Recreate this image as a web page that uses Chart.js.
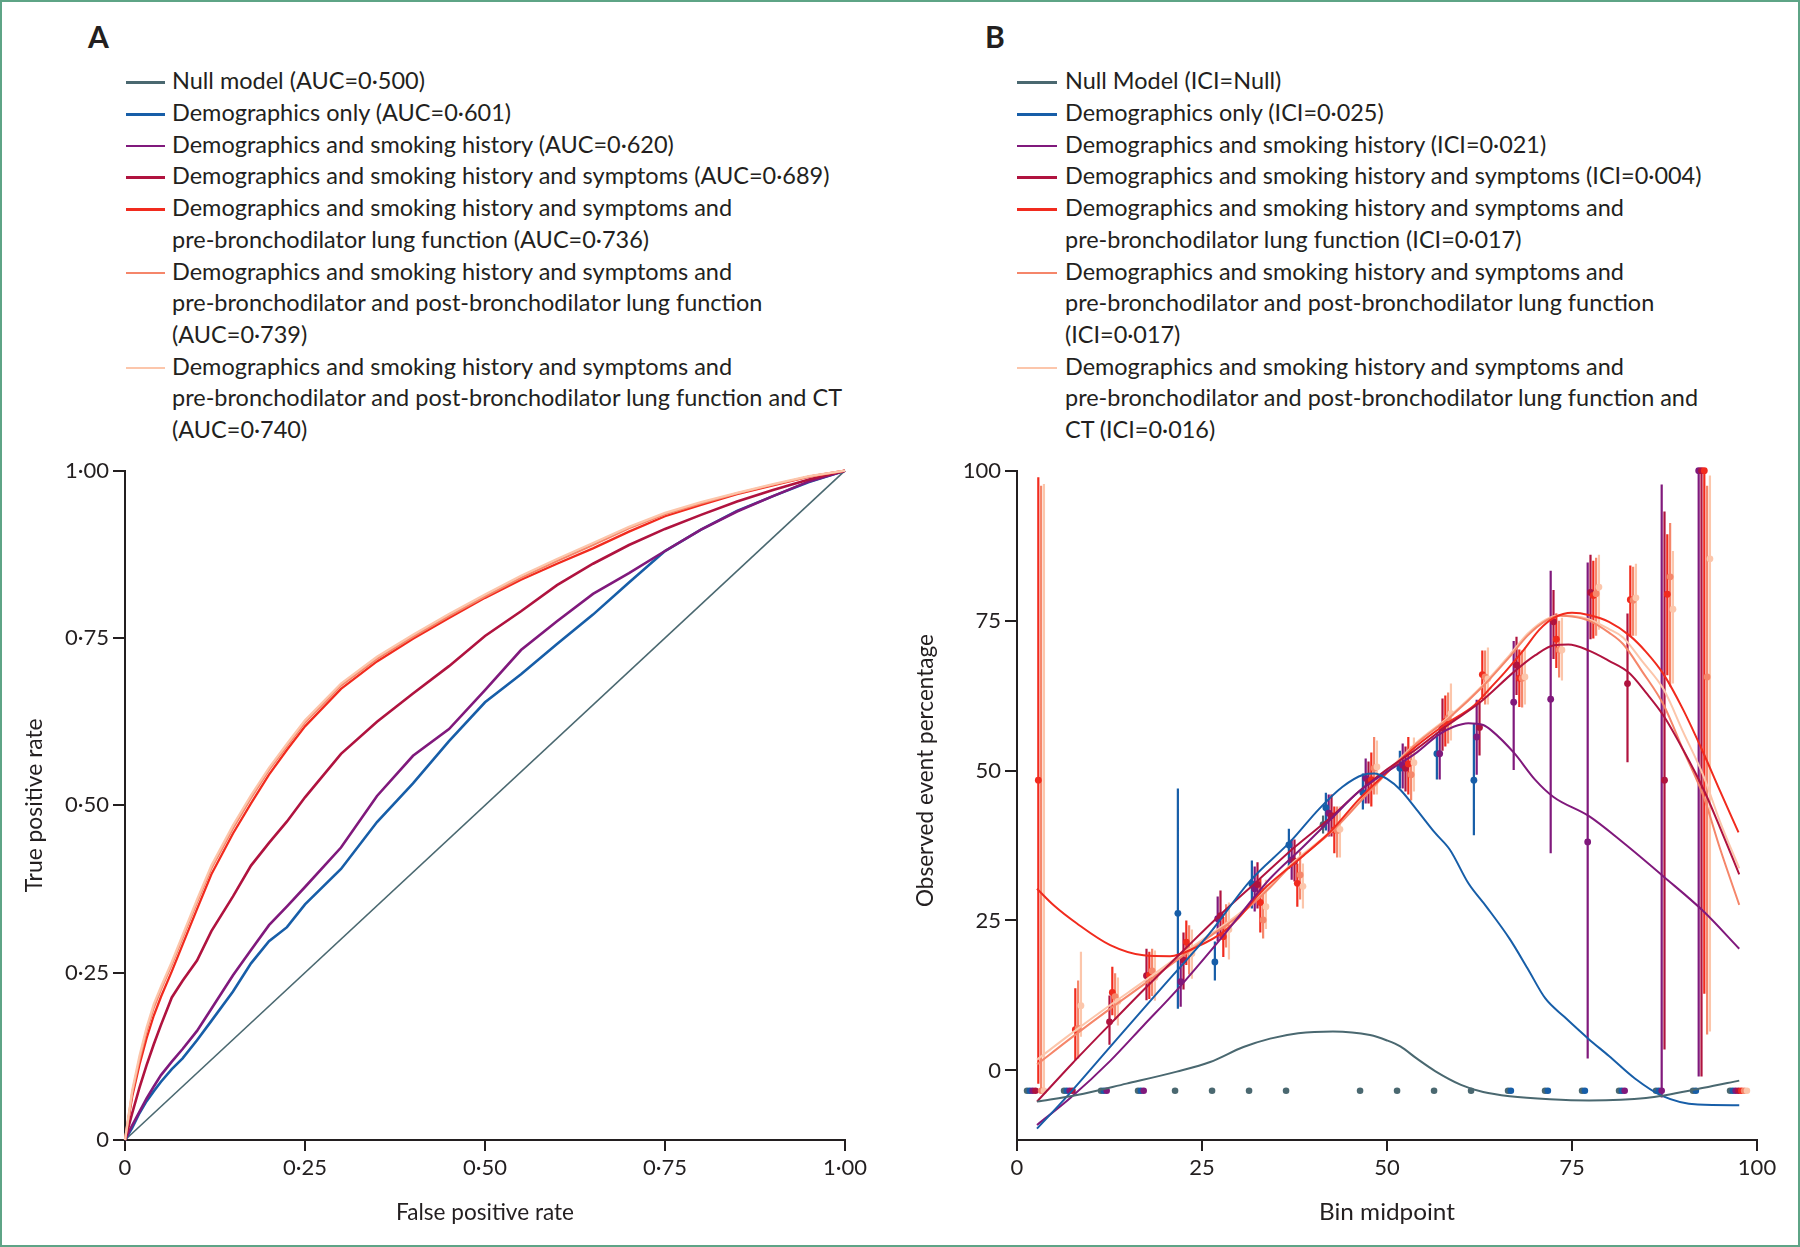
<!DOCTYPE html>
<html>
<head>
<meta charset="utf-8">
<title>ROC curves and calibration</title>
<script src="https://cdn.jsdelivr.net/npm/chart.js@4.4.1/dist/chart.umd.min.js"></script>
<style>
  html, body { margin:0; padding:0; background:#ffffff; }
  body { position:relative; width:1800px; height:1247px; overflow:hidden; font-family: Lato, 'Open Sans', 'DejaVu Sans', sans-serif; color:#231f20; }
  #frame { position:absolute; left:0; top:0; width:1800px; height:1247px; box-sizing:border-box; border:2px solid #5ea486; pointer-events:none; }
  .panel { position:absolute; font-size:30px; line-height:30px; font-weight:700; }
  .legend { position:absolute; }
  .row { position:absolute; height:31.7px; font-size:24px; line-height:31.7px; white-space:nowrap; }
  .txt { position:absolute; left:0; top:0; transform-origin:0 50%; }
  .sw { position:absolute; left:0; height:2.6px; }
  canvas { position:absolute; }
</style>
</head>
<body>
<div class="panel" style="left:88px;top:21px">A</div>
<div class="panel" style="left:985px;top:21px">B</div>
<div class="legend" id="legA" style="left:126px;top:64.4px"></div>
<div class="legend" id="legB" style="left:1017px;top:64.4px"></div>
<canvas id="chartA" width="880" height="807" style="left:0;top:440px;width:880px;height:807px"></canvas>
<canvas id="chartB" width="900" height="807" style="left:900px;top:440px;width:900px;height:807px"></canvas>
<div id="frame"></div>
<script>
const FONT = "Lato, 'Open Sans', 'DejaVu Sans', sans-serif";
const INK = '#231f20';

// ---------- series colours (null, demographics, smoking, symptoms, pre-BD, post-BD, CT) ----------
const seriesColors = ['#4a6870', '#175ea8', '#80197c', '#b0133f', '#f12b1e', '#f5866a', '#fcc6ab'];

// ---------- legend texts ----------
const legendA = [
  ['Null model (AUC=0·500)'],
  ['Demographics only (AUC=0·601)'],
  ['Demographics and smoking history (AUC=0·620)'],
  ['Demographics and smoking history and symptoms (AUC=0·689)'],
  ['Demographics and smoking history and symptoms and', 'pre-bronchodilator lung function (AUC=0·736)'],
  ['Demographics and smoking history and symptoms and', 'pre-bronchodilator and post-bronchodilator lung function', '(AUC=0·739)'],
  ['Demographics and smoking history and symptoms and', 'pre-bronchodilator and post-bronchodilator lung function and CT', '(AUC=0·740)']
];
const legendB = [
  ['Null Model (ICI=Null)'],
  ['Demographics only (ICI=0·025)'],
  ['Demographics and smoking history (ICI=0·021)'],
  ['Demographics and smoking history and symptoms (ICI=0·004)'],
  ['Demographics and smoking history and symptoms and', 'pre-bronchodilator lung function (ICI=0·017)'],
  ['Demographics and smoking history and symptoms and', 'pre-bronchodilator and post-bronchodilator lung function', '(ICI=0·017)'],
  ['Demographics and smoking history and symptoms and', 'pre-bronchodilator and post-bronchodilator lung function and', 'CT (ICI=0·016)']
];

// ---------- Panel A: ROC ----------
const rocTickValues = [0, 0.25, 0.5, 0.75, 1];
const rocTickLabels = ['0', '0·25', '0·50', '0·75', '1·00'];
const nullFpr = [0, 1];
const nullTpr = [0, 1];
const rocFpr = [0, 0.01, 0.02, 0.03, 0.04, 0.05, 0.065, 0.08, 0.1, 0.12, 0.15, 0.175, 0.2, 0.225, 0.25, 0.3, 0.35, 0.4, 0.45, 0.5, 0.55, 0.6, 0.65, 0.7, 0.75, 0.8, 0.85, 0.9, 0.95, 1];
const tprDemo    = [0, 0.018, 0.04, 0.058, 0.073, 0.087, 0.106, 0.122, 0.149, 0.178, 0.222, 0.264, 0.297, 0.318, 0.352, 0.405, 0.475, 0.533, 0.596, 0.654, 0.696, 0.741, 0.785, 0.833, 0.880, 0.912, 0.940, 0.962, 0.983, 1];
const tprSmoke   = [0, 0.022, 0.042, 0.062, 0.08, 0.097, 0.117, 0.136, 0.163, 0.196, 0.246, 0.284, 0.321, 0.349, 0.378, 0.437, 0.514, 0.574, 0.614, 0.672, 0.732, 0.775, 0.816, 0.847, 0.880, 0.912, 0.939, 0.962, 0.984, 1];
const tprSymptom = [0, 0.04, 0.078, 0.112, 0.143, 0.172, 0.213, 0.238, 0.268, 0.312, 0.364, 0.41, 0.444, 0.476, 0.512, 0.577, 0.625, 0.667, 0.708, 0.753, 0.790, 0.829, 0.861, 0.889, 0.913, 0.934, 0.954, 0.971, 0.987, 1];
const tprPreBD   = [0, 0.065, 0.112, 0.152, 0.186, 0.214, 0.252, 0.292, 0.345, 0.397, 0.458, 0.503, 0.546, 0.583, 0.618, 0.674, 0.715, 0.749, 0.780, 0.810, 0.837, 0.861, 0.884, 0.909, 0.932, 0.949, 0.965, 0.978, 0.991, 1];
const tprPostBD  = [0, 0.07, 0.12, 0.163, 0.198, 0.225, 0.262, 0.302, 0.355, 0.406, 0.466, 0.511, 0.553, 0.589, 0.624, 0.679, 0.719, 0.752, 0.783, 0.812, 0.840, 0.865, 0.889, 0.914, 0.935, 0.951, 0.966, 0.979, 0.991, 1];
const tprCT      = [0, 0.074, 0.125, 0.168, 0.203, 0.229, 0.266, 0.306, 0.359, 0.41, 0.47, 0.515, 0.556, 0.592, 0.627, 0.682, 0.722, 0.755, 0.786, 0.815, 0.843, 0.868, 0.892, 0.916, 0.937, 0.953, 0.967, 0.980, 0.992, 1];

// ---------- Panel B: calibration ----------
const calTickValues = [0, 25, 50, 75, 100];
const calTickLabels = ['0', '25', '50', '75', '100'];
const calYMin = -11.6;
const noDataLevel = -3.4;
const binMid = [2.5, 7.5, 12.5, 17.5, 22.5, 27.5, 32.5, 37.5, 42.5, 47.5, 52.5, 57.5, 62.5, 67.5, 72.5, 77.5, 82.5, 87.5, 92.5, 97.5];
const seriesDodge = [-1.14, -0.76, -0.38, 0, 0.38, 0.76, 1.14];

// smoothed calibration curves
const curveNullX = [2.7, 8.1, 14.8, 21.6, 26.1, 30.6, 34.2, 38, 42.7, 47.7, 50, 51.8, 54, 56.5, 60, 63, 66.6, 72, 77.3, 85, 92.8, 97.6];
const curveNullY = [-5.2, -4.1, -2.2, -0.2, 1.4, 3.9, 5.3, 6.2, 6.5, 5.9, 5.0, 4.0, 2.0, -0.1, -2.4, -3.6, -4.3, -4.8, -5.0, -4.6, -2.9, -1.7];
const curveDemoX = [2.7, 6.7, 12, 20, 26, 31.5, 36.9, 40.9, 44, 46.8, 48.3, 50, 51.8, 54, 56.5, 58.5, 61, 63.5, 66.6, 69, 71.4, 74, 77.2, 80, 83.5, 87.1, 92, 97.6];
const curveDemoY = [-9.7, -4.4, 3.1, 14.4, 22.8, 31.6, 38.1, 43.7, 47.3, 49.3, 49.5, 48.6, 46.8, 43.5, 39.6, 36.8, 31.2, 27.2, 21.9, 17, 12.0, 8.9, 5.3, 2.4, -1.35, -4.2, -5.7, -5.8];
const curveSmokeX = [2.7, 7.2, 12.6, 17.1, 21.6, 28.1, 34.2, 38.5, 42.5, 46.2, 50, 54, 57, 59, 61, 63, 64.1, 67.2, 70, 72.5, 77.3, 81.9, 87.4, 92.8, 97.6];
const curveSmokeY = [-9.1, -4.6, 1.6, 7.5, 13.4, 22.8, 32, 37.1, 42, 46.5, 49.8, 53, 56, 57.3, 57.9, 57.6, 56.7, 52.9, 48.5, 45.6, 42.4, 38, 32.3, 26.5, 20.3];
const curveSymptomX = [2.7, 7.5, 12.5, 17.5, 22.5, 27.5, 32.5, 37.5, 42.5, 46.2, 50, 54, 58, 62.5, 67.2, 70, 72.6, 74.5, 77.3, 80, 82.7, 85, 87.4, 90, 92.8, 95, 97.6];
const curveSymptomY = [-5.2, 1.2, 7.6, 13.9, 20, 26, 31.6, 37.2, 42.3, 46.5, 50.2, 53.6, 57.4, 61.3, 66.5, 69.2, 70.9, 71, 70, 68.3, 66.3, 63, 59.1, 53.5, 46.8, 40.5, 32.7];
const curvePreBDX = [2.7, 5, 8.1, 12.6, 17.1, 20.7, 24.3, 27.9, 30, 33, 38.5, 42.5, 46.2, 50, 54, 58, 61.8, 64, 66, 68.4, 70.6, 72.6, 75, 77.4, 80, 82.8, 85, 87.3, 90, 92.7, 95, 97.5];
const curvePreBDY = [30.3, 27.5, 24.5, 20.9, 19.2, 19.05, 20.6, 23.1, 25.5, 29.8, 35.6, 40, 45.2, 49.7, 54.1, 57.8, 60.9, 63.8, 66.5, 70, 73.5, 75.5, 76.3, 75.9, 74.8, 72.5, 69.8, 66.2, 60.2, 53.1, 46.6, 39.7];
const curvePostBDX = [2.7, 7.5, 12.6, 17.1, 21.6, 26, 30, 34.2, 36.9, 42.7, 48.6, 54, 58.5, 63, 66.6, 69, 71.5, 73.4, 75, 77.3, 80, 81.9, 84.5, 87.4, 90, 92.8, 95, 97.6];
const curvePostBDY = [1.0, 5.6, 10.3, 14.3, 18.4, 22.3, 25.8, 30.5, 34, 40, 47.8, 54.5, 58.9, 64.1, 69, 72.5, 75, 75.8, 75.7, 75, 73, 71.1, 66.5, 60.9, 53.5, 45.6, 37, 27.6];
const curveCTX = [2.7, 7.5, 12.6, 17.1, 21.6, 26, 30, 34.2, 36.9, 42.7, 48.6, 54, 58.5, 63, 66.6, 69, 71.5, 73.4, 75, 77.3, 80, 81.9, 84.5, 87.4, 90, 92.8, 95, 97.6];
const curveCTY = [1.8, 6.3, 10.9, 14.8, 18.8, 22.6, 26.1, 30.7, 34.2, 40.2, 48, 54.7, 59.1, 64.3, 69.3, 72.8, 75.2, 75.9, 75.8, 75.2, 73.6, 72.2, 68.2, 63.5, 56.5, 49, 41.5, 33.7];

// observed event percentage per bin (null = no observed point), with 95% CI
const n = null;
const obsNull = [n, n, n, n, n, n, n, n, 41.0, n, n, n, n, n, n, n, n, n, n, n];
const loNull  = [n, n, n, n, n, n, n, n, 39.5, n, n, n, n, n, n, n, n, n, n, n];
const hiNull  = [n, n, n, n, n, n, n, n, 42.5, n, n, n, n, n, n, n, n, n, n, n];
const obsDemo = [n, n, n, n, 26.2, 18.1, 31.1, 37.6, 43.8, 46.3, 50.4, 52.8, 48.4, n, n, n, n, n, n, n];
const loDemo  = [n, n, n, n, 10.3, 15.0, 27.0, 33.6, 40.0, 43.5, 47.0, 48.5, 39.2, n, n, n, n, n, n, n];
const hiDemo  = [n, n, n, n, 47.0, 21.5, 35.0, 40.3, 46.3, 49.5, 53.3, 56.3, 57.8, n, n, n, n, n, n, n];
const obsSmoke = [n, n, n, n, 14.8, 25.3, 30.3, 35.1, 42.9, 48.7, 50.9, 52.8, 55.6, 61.4, 61.9, 38.1, n, n, 100, n];
const loSmoke  = [n, n, n, n, 10.6, 21.5, 26.5, 31.8, 39.0, 44.5, 47.0, 48.5, 49.3, 50.1, 36.2, 2.0, n, -4.5, -1, n];
const hiSmoke  = [n, n, n, n, 18.7, 29.0, 34.0, 38.5, 46.0, 52.0, 54.5, 57.5, 61.8, 71.6, 83.3, 84.7, n, 97.7, 100, n];
const obsSymptom = [n, n, 8.1, 15.8, 18.4, 25.8, 31.0, 34.9, 42.5, 48.2, 50.4, 57.1, 57.2, 67.6, 74.8, 79.7, 64.5, 48.4, 100, n];
const loSymptom  = [n, n, 4.3, 11.7, 13.5, 22.0, 27.0, 31.5, 39.0, 44.5, 46.5, 53.3, 52.5, 62.6, 68.6, 71.9, 51.4, 3.5, -1, n];
const hiSymptom  = [n, n, 12.5, 20.3, 23.0, 30.0, 34.7, 38.5, 46.0, 51.5, 54.0, 62.0, 61.6, 72.3, 80.1, 86.0, 76.2, 93.2, 100, n];
const obsPreBD = [48.4, 6.8, 13.0, 15.9, 21.4, 22.3, 28.0, 31.2, 40.1, 48.5, 51.1, 58.2, 66.0, 65.4, 71.9, 79.2, 78.5, 79.4, 100, n];
const loPreBD  = [-2.2, 1.7, 9.2, 11.9, 17.6, 18.9, 23.0, 27.3, 36.2, 44.0, 46.0, 54.0, 61.9, 60.6, 67.1, 72.0, 72.3, 65.9, 12.8, n];
const hiPreBD  = [98.9, 13.7, 17.3, 19.8, 25.0, 25.6, 32.0, 34.5, 44.0, 53.0, 55.6, 62.5, 70.0, 70.2, 76.2, 85.0, 84.2, 89.4, 100, n];
const obsPostBD = [n, 7.0, 12.3, 16.6, 20.0, 24.0, 25.1, 32.6, 40.0, 50.4, 49.3, 58.8, 65.6, 65.4, 70.1, 79.5, 78.4, 82.3, 65.6, n];
const loPostBD  = [-3.4, 2.0, 8.4, 12.4, 16.0, 20.5, 22.0, 28.5, 35.5, 46.0, 45.0, 54.5, 61.0, 60.5, 65.5, 72.5, 72.5, 64.0, 6.0, n];
const hiPostBD  = [97.5, 15.0, 16.2, 20.3, 24.2, 27.7, 30.4, 36.5, 44.0, 55.6, 54.0, 63.0, 70.0, 70.0, 75.0, 85.5, 84.0, 91.3, 97.5, n];
const obsCT = [n, 10.8, 11.5, 15.5, 19.5, 23.5, 27.3, 30.7, 40.2, 50.6, 51.3, 59.5, 65.3, 65.6, 70.1, 80.6, 78.8, 76.9, 85.3, n];
const loCT  = [-3.4, 5.6, 7.5, 11.6, 15.3, 18.5, 23.6, 27.0, 35.5, 46.0, 46.5, 55.0, 61.0, 61.0, 65.0, 73.5, 72.5, 64.5, 6.5, n];
const hiCT  = [97.8, 19.8, 15.5, 20.0, 23.5, 28.0, 31.8, 34.5, 44.0, 55.0, 55.5, 64.5, 70.5, 70.5, 75.5, 86.0, 84.5, 86.6, 99.2, n];

// ---------- helpers ----------
function pts(xs, ys) { return xs.map((x, i) => ({ x: x, y: ys[i] })); }

function buildLegend(id, entries, textOffset, swatchWidth, refText, refWidth) {
  const el = document.getElementById(id);
  const c = document.createElement('canvas').getContext('2d');
  c.font = '24px ' + FONT;
  const k = refWidth / c.measureText(refText).width;
  const ROW = 31.7;
  let row = 0;
  entries.forEach((lines, si) => {
    const sw = document.createElement('div');
    sw.className = 'sw';
    sw.style.top = (row * ROW + 18.3 - 1.3) + 'px';
    sw.style.width = swatchWidth + 'px';
    sw.style.background = seriesColors[si];
    el.appendChild(sw);
    lines.forEach(line => {
      const r = document.createElement('div');
      r.className = 'row';
      r.style.top = (row * ROW) + 'px';
      r.style.left = textOffset + 'px';
      const t = document.createElement('span');
      t.className = 'txt';
      t.textContent = line;
      t.style.transform = 'scaleX(' + k.toFixed(4) + ')';
      r.appendChild(t);
      el.appendChild(r);
      row++;
    });
  });
}
buildLegend('legA', legendA, 46, 39, legendA[3][0], 658);
buildLegend('legB', legendB, 47.5, 40, legendB[3][0], 637);

const axisTitles = {
  id: 'axisTitles',
  afterDraw(chart, args, o) {
    const ctx = chart.ctx, xs = chart.scales.x, ys = chart.scales.y;
    ctx.save();
    ctx.fillStyle = INK;
    ctx.font = o.size + 'px ' + FONT;
    ctx.textAlign = 'center';
    ctx.textBaseline = 'middle';
    const xc = (xs.left + xs.right) / 2;
    const kx = o.xWidth / ctx.measureText(o.xText).width;
    ctx.save();
    ctx.translate(xc, chart.chartArea.bottom + o.xGap);
    ctx.scale(kx, 1);
    ctx.fillText(o.xText, 0, 0);
    ctx.restore();
    const yc = (ys.getPixelForValue(o.yFrom) + ys.getPixelForValue(o.yTo)) / 2;
    const ky = o.yWidth / ctx.measureText(o.yText).width;
    ctx.save();
    ctx.translate(o.yX, yc);
    ctx.rotate(-Math.PI / 2);
    ctx.scale(ky, 1);
    ctx.fillText(o.yText, 0, 0);
    ctx.restore();
    ctx.restore();
  }
};

const tickFont = { family: FONT, size: 22 };
function axis(kind, min, max, values, labels, fitSize) {
  const a = {
    type: 'linear', min: min, max: max,
    afterBuildTicks: s => { s.ticks = values.map(v => ({ value: v })); },
    ticks: { callback: v => labels[values.indexOf(v)], font: tickFont, color: INK, padding: 4, maxRotation: 0, autoSkip: false },
    grid: { drawOnChartArea: false, tickLength: kind === 'x' ? 11 : 12, color: INK, lineWidth: 2 },
    border: { display: true, color: INK, width: 2 }
  };
  if (kind === 'x') a.afterFit = s => { s.height = fitSize; };
  else a.afterFit = s => { s.width = fitSize; };
  return a;
}

Chart.defaults.font.family = FONT;

// ---------- Chart A ----------
const rocTprs = [tprDemo, tprSmoke, tprSymptom, tprPreBD, tprPostBD, tprCT];
const rocDatasets = [];
for (let s = 6; s >= 1; s--) {
  rocDatasets.push({
    data: pts(rocFpr, rocTprs[s - 1]),
    borderColor: seriesColors[s], borderWidth: s >= 4 ? 2.3 : 2.6,
    pointRadius: 0, tension: 0, fill: false, clip: 4
  });
}
rocDatasets.push({ data: pts(nullFpr, nullTpr), borderColor: seriesColors[0], borderWidth: 1.6, pointRadius: 0, tension: 0, fill: false, clip: 4 });

new Chart(document.getElementById('chartA'), {
  type: 'line',
  data: { datasets: rocDatasets },
  options: {
    responsive: false, animation: false, events: [],
    layout: { padding: { top: 30.7, right: 35, left: 0, bottom: 0 } },
    plugins: {
      legend: { display: false }, tooltip: { enabled: false },
      axisTitles: { size: 23, xText: 'False positive rate', xWidth: 178, xGap: 73,
                    yText: 'True positive rate', yWidth: 174, yFrom: 0, yTo: 1, yX: 35 }
    },
    scales: {
      x: axis('x', 0, 1, rocTickValues, rocTickLabels, 107),
      y: axis('y', 0, 1, rocTickValues, rocTickLabels, 125)
    }
  },
  plugins: [axisTitles]
});

// ---------- Chart B ----------
const curveXs = [curveNullX, curveDemoX, curveSmokeX, curveSymptomX, curvePreBDX, curvePostBDX, curveCTX];
const curveYs = [curveNullY, curveDemoY, curveSmokeY, curveSymptomY, curvePreBDY, curvePostBDY, curveCTY];
const obs = [obsNull, obsDemo, obsSmoke, obsSymptom, obsPreBD, obsPostBD, obsCT];
const lo = [loNull, loDemo, loSmoke, loSymptom, loPreBD, loPostBD, loCT];
const hi = [hiNull, hiDemo, hiSmoke, hiSymptom, hiPreBD, hiPostBD, hiCT];

const calDatasets = [];
for (let s = 0; s < 7; s++) {
  calDatasets.push({
    type: 'line', order: 0,
    data: pts(curveXs[s], curveYs[s]),
    borderColor: seriesColors[s], borderWidth: 2, pointRadius: 0,
    cubicInterpolationMode: 'monotone', fill: false, clip: 4
  });
}
for (let s = 6; s >= 0; s--) {
  const pointData = [], missData = [], barData = [];
  binMid.forEach((m, i) => {
    const x = m + seriesDodge[s];
    if (obs[s][i] !== null) pointData.push({ x: x, y: obs[s][i] });
    else missData.push({ x: x, y: noDataLevel });
    if (lo[s][i] !== null) barData.push({ x: x, y: lo[s][i] }, { x: x, y: hi[s][i] }, { x: x, y: null });
  });
  calDatasets.push({
    type: 'scatter', order: 1, data: pointData,
    pointRadius: 3.4, pointBackgroundColor: seriesColors[s], pointBorderWidth: 0, showLine: false, clip: false
  });
  calDatasets.push({
    type: 'scatter', order: 1, data: missData,
    pointRadius: 3.3, pointBackgroundColor: seriesColors[s], pointBorderWidth: 0, showLine: false, clip: false
  });
  calDatasets.push({
    type: 'line', order: 2, data: barData,
    borderColor: seriesColors[s], borderWidth: 2.2, pointRadius: 0, spanGaps: false, tension: 0, fill: false, clip: false
  });
}

new Chart(document.getElementById('chartB'), {
  type: 'line',
  data: { datasets: calDatasets },
  options: {
    responsive: false, animation: false, events: [],
    layout: { padding: { top: 30.7, right: 43, left: 0, bottom: 0 } },
    plugins: {
      legend: { display: false }, tooltip: { enabled: false },
      axisTitles: { size: 23, xText: 'Bin midpoint', xWidth: 136, xGap: 73,
                    yText: 'Observed event percentage', yWidth: 273, yFrom: 0, yTo: 100, yX: 26 }
    },
    scales: {
      x: axis('x', 0, 100, calTickValues, calTickLabels, 107),
      y: axis('y', calYMin, 100, calTickValues, calTickLabels, 117)
    }
  },
  plugins: [axisTitles]
});
</script>
</body>
</html>
